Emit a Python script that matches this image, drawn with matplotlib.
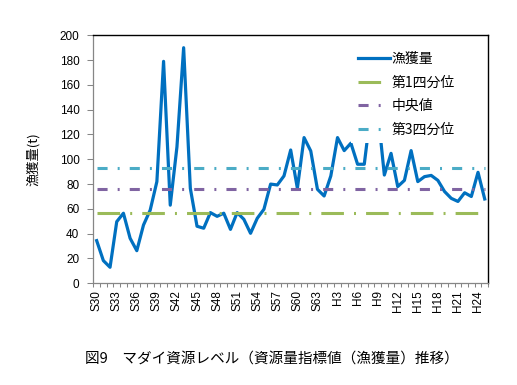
import numpy as np
import matplotlib
matplotlib.use("Agg")
import matplotlib.pyplot as plt
from matplotlib.ticker import FixedLocator, MultipleLocator

plt.rcParams['font.family'] = ['Noto Sans CJK JP', 'DejaVu Sans']

# categories (S30 .. H25)
years = ["S30", "S31", "S32", "S33", "S34", "S35", "S36", "S37", "S38", "S39",
         "S40", "S41", "S42", "S43", "S44", "S45", "S46", "S47", "S48", "S49",
         "S50", "S51", "S52", "S53", "S54", "S55", "S56", "S57", "S58", "S59",
         "S60", "S61", "S62", "S63", "H1", "H2", "H3", "H4", "H5", "H6",
         "H7", "H8", "H9", "H10", "H11", "H12", "H13", "H14", "H15", "H16",
         "H17", "H18", "H19", "H20", "H21", "H22", "H23", "H24", "H25"]

# 漁獲量 (t)
catch = [34.4, 18.3, 12.9, 49.7, 56.5, 36.3, 26.3, 47, 59, 82,
         179, 63, 110, 190, 76.6, 46, 44.4, 57, 54, 56.5,
         43.5, 57, 51.6, 40.3, 52.4, 59.7, 80, 79.3, 86.6, 107.5,
         76.6, 117.5, 106.7, 75.8, 70.4, 86.6, 117.5, 107, 113, 96,
         96, 140, 140, 87.3, 104.8, 78, 83, 107, 82, 86,
         87, 83, 74, 68.5, 66, 73, 70, 89.5, 68]

q1 = 56.5
median = 75.8
q3 = 92.7

tick_labels = ["S30", "S33", "S36", "S39", "S42", "S45", "S48", "S51", "S54", "S57",
               "S60", "S63", "H3", "H6", "H9", "H12", "H15", "H18", "H21", "H24"]

x = np.arange(len(years))
tick_pos = [years.index(t) for t in tick_labels]

fig = plt.figure(figsize=(5.17, 3.85), dpi=100)
ax = fig.add_axes([0.1805, 0.2642, 0.7635, 0.6441])

ax.plot(x, catch, color='#0070C0', lw=2.3, label='漁獲量', zorder=3,
        solid_joinstyle='round')
ax.plot(x, [q1] * len(x), color='#9BBB59', lw=2.2,
        linestyle=(0, (7.4, 3.3, 0.65, 3.3)), label='第1四分位', zorder=4)
ax.plot(x, [median] * len(x), color='#8064A2', lw=2.2,
        linestyle=(0, (3.3, 3.3, 0.65, 3.3)), label='中央値', zorder=4)
ax.plot(x, [q3] * len(x), color='#4BACC6', lw=2.2,
        linestyle=(0, (3.3, 3.3, 0.65, 3.3)), label='第3四分位', zorder=4)

ax.set_xlim(-0.5, len(x) - 0.5)
ax.set_ylim(0, 200)
ax.yaxis.set_major_locator(MultipleLocator(20))

ax.xaxis.set_major_locator(FixedLocator(tick_pos))
ax.set_xticklabels(tick_labels, rotation=90, fontsize=8.5,
                   family=['Liberation Sans'])
ax.xaxis.set_minor_locator(FixedLocator(np.arange(len(x) + 1) - 0.5))
ax.tick_params(axis='x', which='major', length=0, pad=5)
ax.tick_params(axis='x', which='minor', length=3, width=0.75, color='#868686',
               direction='out')
ax.tick_params(axis='y', length=4, width=0.75, color='#868686', pad=6,
               labelsize=8.5)
for lab in ax.get_yticklabels():
    lab.set_family(['Liberation Sans'])

for s in ['left', 'bottom']:
    ax.spines[s].set_color('#868686')
    ax.spines[s].set_linewidth(0.9)
for s in ['top', 'right']:
    ax.spines[s].set_color('black')
    ax.spines[s].set_linewidth(1.0)

ax.set_ylabel('漁獲量(t)', fontsize=9.5, labelpad=14)

# legend box sits on top of the line (hides the H8-H9 peak like the original)
leg = ax.legend(loc='upper left', bbox_to_anchor=(0.652, 0.96), fontsize=10,
                frameon=True, fancybox=False, edgecolor='none',
                facecolor='white', framealpha=1.0, handlelength=2.3,
                handletextpad=0.15, labelspacing=0.68, borderpad=0.5,
                borderaxespad=0.0)
leg.set_zorder(10)

fig.text(0.525, 0.068, '図9　マダイ資源レベル（資源量指標値（漁獲量）推移）',
         ha='center', va='center', fontsize=10.5)

fig.savefig('out.png', dpi=100)
